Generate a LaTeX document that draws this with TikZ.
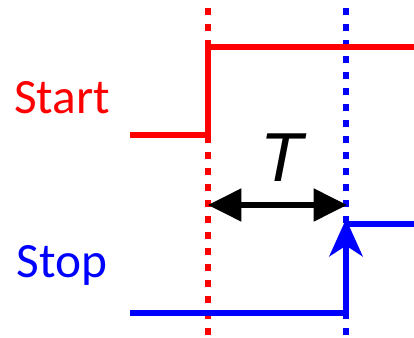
\documentclass[tikz,border=0pt]{standalone}
\usepackage{fontspec}
\setmainfont{Carlito}
\newfontfamily\symbolfont{Liberation Sans}
\usetikzlibrary{arrows.meta, positioning}
\definecolor{sigred}{RGB}{255, 0, 0}
\definecolor{sigblue}{RGB}{0, 0, 255}
\tikzset{
    signal/.style = {line width=3.8pt},
    marker/.style = {line width=4.8pt, dash pattern=on 5pt off 7pt},
    label/.style = {font=\fontsize{37}{40}\selectfont, inner sep=0pt}
}

\begin{document}
\begin{tikzpicture}[x=0.75pt, y=-0.75pt]
\useasboundingbox (0,0) rectangle (414,338);
% Markers
\coordinate (rtop) at (208,8);
\coordinate (rbot) at (208,338);
\coordinate (btop) at (346,8);
\coordinate (bbot) at (346,338);
\draw [marker, sigred] (rtop) -- (rbot);
\draw [marker, sigblue] (btop) -- (bbot);

% Start signal
\coordinate (s0) at (130,135);
\coordinate (s1) at (208,135);
\coordinate (s2) at (208,47);
\coordinate (s3) at (414,47);
\draw [signal, sigred] (s0) -- (s1) -- (s2) -- (s3);

% Stop signal
\coordinate (p0) at (130,313);
\coordinate (p1) at (346,313);
\coordinate (p2) at (346,224);
\coordinate (p3) at (414,224);
\coordinate (ptip) at (346,219);
\draw [signal, sigblue] (p0) -- (p1);
\draw [signal, sigblue, -{Stealth[length=28pt, width=25pt, inset=8pt]}] (p1) -- (ptip);
\draw [signal, sigblue] (p2) -- (p3);

% Labels
\node (start) [label, sigred] at (62,98) {Start};
\node (stop) [label, sigblue] at (62,265) {Stop};

% Interval
\coordinate (ta) at (208,205);
\coordinate (tb) at (347,205);
\draw [signal, {Triangle[length=25pt, width=24pt]}-{Triangle[length=25pt, width=24pt]}] (ta) -- (tb);
\node (T) [inner sep=0pt, font=\symbolfont\itshape\fontsize{52}{56}\selectfont] at (282,158) {T};
\end{tikzpicture}
\end{document}
